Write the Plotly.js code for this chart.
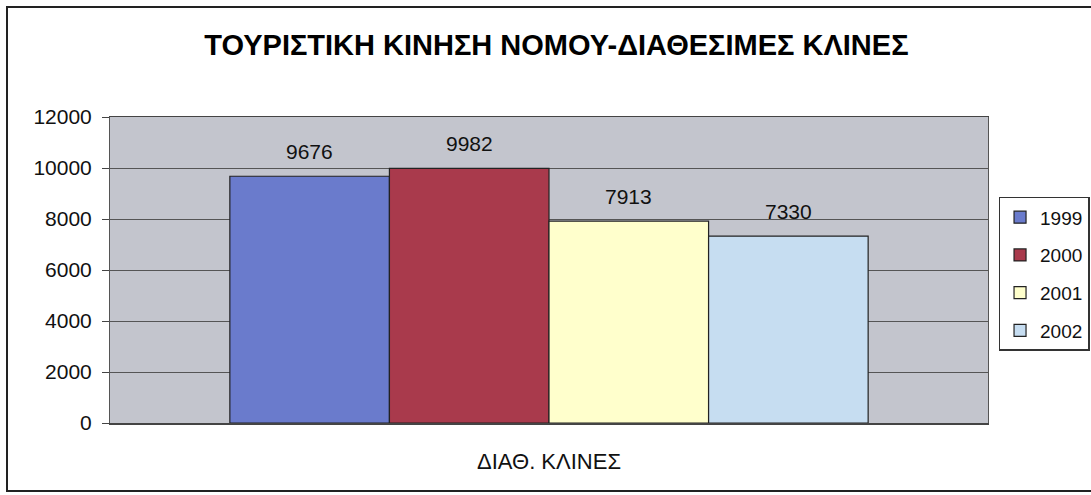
<!DOCTYPE html>
<html>
<head>
<meta charset="utf-8">
<script src="https://cdn.plot.ly/plotly-3.0.1.min.js"></script>
<style>
  body { margin: 0; background: #fff; overflow: hidden; }
  #chart { position: absolute; left: 0; top: 0; width: 1091px; height: 495px; }
  #frame { position: absolute; left: 6px; top: 6px; width: 1110px; height: 482px;
           border: 2px solid #222; pointer-events: none; }
</style>
</head>
<body>
<div id="chart"></div>
<div id="frame"></div>
<script>
// Chart data
const category = ['ΔΙΑΘ. ΚΛΙΝΕΣ'];
const years = ['1999', '2000', '2001', '2002'];
const beds = [9676, 9982, 7913, 7330];
const barColors = ['#6a7bcc', '#a93a4c', '#ffffcc', '#c6ddf1'];
const yTicks = [0, 2000, 4000, 6000, 8000, 10000, 12000];

const bargap = 0.273;
const font = 'Liberation Sans, Arial, sans-serif';

const traces = years.map((yr, i) => ({
  type: 'bar',
  name: yr,
  legendgroup: yr,
  x: category,
  y: [beds[i]],
  marker: { color: barColors[i], line: { color: '#222', width: 1.2 } },
  hoverinfo: 'none'
}));

// value labels sit a little above each bar, centred on it
const barW = (1 - bargap) / years.length;
const labels = years.map((yr, i) => ({
  x: -0.5 + bargap / 2 + barW * (i + 0.5),
  y: beds[i],
  xref: 'x',
  yref: 'y',
  text: String(beds[i]),
  showarrow: false,
  yanchor: 'bottom',
  yshift: 11,
  font: { family: font, size: 21, color: '#111' }
}));

const layout = {
  width: 1091,
  height: 495,
  margin: { l: 110, r: 103, t: 117, b: 72, autoexpand: false },
  paper_bgcolor: 'rgba(0,0,0,0)',
  plot_bgcolor: '#c3c5cd',
  barmode: 'group',
  bargap: bargap,
  bargroupgap: 0,
  showlegend: true,
  title: {
    text: '<b>ΤΟΥΡΙΣΤΙΚΗ ΚΙΝΗΣΗ ΝΟΜΟΥ-ΔΙΑΘΕΣΙΜΕΣ ΚΛΙΝΕΣ</b>',
    x: 0.51,
    xanchor: 'center',
    y: 0.91,
    yanchor: 'middle',
    font: { family: font, size: 29, color: '#000' }
  },
  font: { family: font, size: 21, color: '#111' },
  xaxis: {
    type: 'category',
    range: [-0.5, 0.5],
    showline: true,
    linecolor: '#444',
    linewidth: 1.5,
    mirror: true,
    ticks: '',
    ticklabelstandoff: 18,
    tickfont: { family: font, size: 22, color: '#111' },
    showgrid: false
  },
  yaxis: {
    range: [0, 12000],
    tickvals: yTicks,
    ticktext: yTicks.map(String),
    showline: true,
    linecolor: '#555',
    linewidth: 1,
    mirror: true,
    ticks: 'outside',
    ticklen: 7,
    tickcolor: '#444',
    ticklabelstandoff: 6,
    gridcolor: '#555',
    gridwidth: 1,
    zeroline: false,
    tickfont: { family: font, size: 21, color: '#111' }
  },
  legend: {
    x: 1.012,
    xanchor: 'left',
    y: 0.739,
    yanchor: 'top',
    bgcolor: '#fff',
    bordercolor: '#333',
    borderwidth: 1.5,
    tracegroupgap: 10,
    itemwidth: 30,
    font: { family: font, size: 19, color: '#111' }
  },
  annotations: labels
};

Plotly.newPlot('chart', traces, layout, { staticPlot: true });
</script>
</body>
</html>
